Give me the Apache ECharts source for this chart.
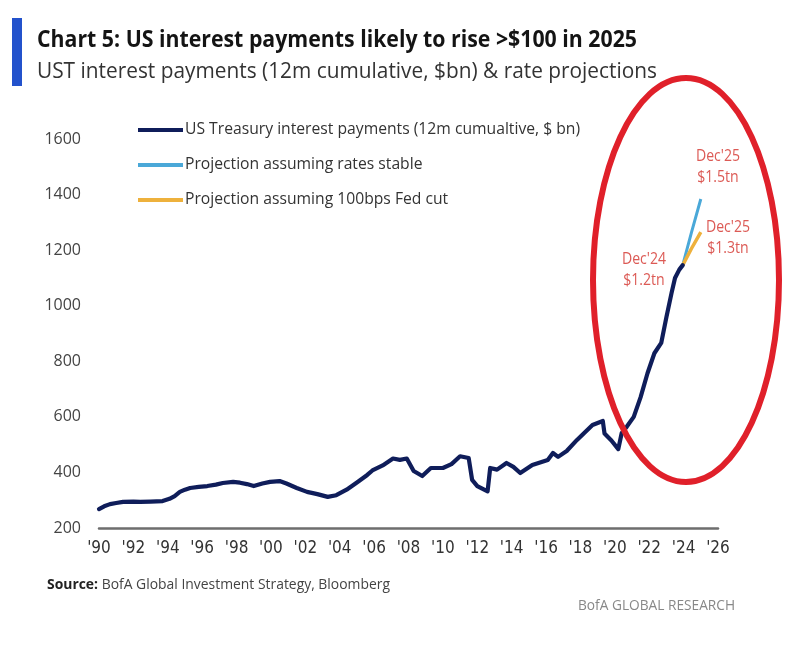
<!DOCTYPE html>
<html>
<head>
<meta charset="utf-8">
<script src="https://cdn.jsdelivr.net/npm/echarts@6/dist/echarts.min.js"></script>
<style>
html,body{margin:0;padding:0;background:#fff;}
#c{width:800px;height:645px;}
</style>
</head>
<body>
<div id="c"></div>
<script>
// ---- data ----
const histYears = [1990.0,1990.3,1990.64,1991.0,1991.4,1992.0,1992.4,1993.0,1993.7,1994.1,1994.4,1994.7,1995.0,1995.3,1995.8,1996.3,1996.8,1997.2,1997.8,1998.2,1998.6,1999.0,1999.5,1999.95,2000.5,2000.9,2001.5,2002.1,2002.7,2003.3,2003.8,2004.4,2005.0,2005.6,2005.9,2006.5,2007.1,2007.5,2007.9,2008.3,2008.8,2009.3,2010.0,2010.5,2011.0,2011.5,2011.7,2012.0,2012.6,2012.75,2013.15,2013.7,2014.1,2014.5,2015.2,2016.1,2016.4,2016.7,2017.2,2017.8,2018.4,2018.7,2019.0,2019.3,2019.4,2019.8,2020.2,2020.4,2020.7,2021.1,2021.5,2021.9,2022.3,2022.7,2023.0,2023.3,2023.5,2023.75,2023.95];
const histValues = [268,278,286,290,294,295,294,295,297,305,315,330,338,344,348,351,356,362,366,363,358,351,360,366,369,360,344,330,322,312,318,338,364,391,407,425,450,445,450,405,387,416,416,430,458,452,373,351,332,416,410,434,420,398,427,445,470,456,477,517,553,571,578,585,540,515,484,542,565,600,671,757,829,866,959,1046,1100,1130,1146];
const projYears = [2023.95, 2024.45, 2025.0];
const stableValues = [1146, 1262, 1384];
const cutValues = [1146, 1205, 1265];
const yTicks = [200,400,600,800,1000,1200,1400,1600];
const seriesNames = ['US Treasury interest payments (12m cumualtive, $ bn)','Projection assuming rates stable','Projection assuming 100bps Fed cut'];
const titleText = 'Chart 5: US interest payments likely to rise >$100 in 2025';
const subtitleText = 'UST interest payments (12m cumulative, $bn) & rate projections';
const annotations = [
  {lines:["Dec'25","$1.5tn"], x:718, y:167},
  {lines:["Dec'25","$1.3tn"], x:728, y:238},
  {lines:["Dec'24","$1.2tn"], x:644, y:270}
];

const zip = (xs, ys) => xs.map((x,i)=>[x, ys[i]]);
const FONT = '"Open Sans", "Liberation Sans", sans-serif';
const NARROW = '"DejaVu Sans Condensed", "Open Sans", sans-serif';

const mctx = document.createElement('canvas').getContext('2d');
function fitScale(text, font, width){ mctx.font = font; return width / mctx.measureText(text).width; }
function fitText(text, font, x, y, width, fill, extra){
  return Object.assign({type:'text', x:x, y:y, scaleX:fitScale(text, font, width),
    style:{text:text, font:font, fill:fill, verticalAlign:'top'}}, extra||{});
}

const chart = echarts.init(document.getElementById('c'), null, {renderer:'canvas'});
const titleFont = 'bold 22.5px "Open Sans"';
const subFont = '21px "Open Sans"';
const srcBold = 'bold 15px "Open Sans"';
const srcNorm = '15px "Open Sans"';
const srcRest = ' BofA Global Investment Strategy, Bloomberg';
mctx.font = srcBold; const wb = mctx.measureText('Source:').width;
mctx.font = srcNorm; const wn = mctx.measureText(srcRest).width;
const srcScale = 343 / (wb + wn);

chart.setOption({
  backgroundColor:'#fff',
  animation:false,
  grid:{left:99, right:82, top:139, bottom:117, containLabel:false},
  legend:{
    orient:'vertical', left:133, top:117,
    itemWidth:45, itemHeight:4, itemGap:19,
    icon:'rect',
    textStyle:{fontFamily:FONT, fontSize:15.7, color:'#333', padding:[0,0,0,-3]},
    data:seriesNames
  },
  xAxis:{
    type:'value', min:1990, max:2026, interval:2,
    axisLine:{show:true, lineStyle:{color:'#6e6e6e', width:2.5}},
    axisTick:{show:false},
    splitLine:{show:false},
    axisLabel:{margin:12, fontFamily:NARROW, fontSize:17, color:'#333',
      formatter:v=>"'"+String(v).slice(2)}
  },
  yAxis:{
    type:'value', min:yTicks[0], max:yTicks[yTicks.length-1], interval:200,
    axisLine:{show:false}, axisTick:{show:false}, splitLine:{show:false},
    axisLabel:{margin:18, fontFamily:FONT, fontSize:16, color:'#444', formatter:v=>String(v)}
  },
  series:[
    {name:seriesNames[0], type:'line', data:zip(histYears,histValues), showSymbol:false, symbol:'none',
      lineStyle:{color:'#0f1d5a', width:4.2, join:'round', cap:'round'}, itemStyle:{color:'#0f1d5a'}, z:5},
    {name:seriesNames[1], type:'line', data:zip(projYears,stableValues), showSymbol:false, symbol:'none',
      lineStyle:{color:'#4aa8d8', width:3}, itemStyle:{color:'#4aa8d8'}, z:3},
    {name:seriesNames[2], type:'line', data:zip(projYears,cutValues), showSymbol:false, symbol:'none',
      lineStyle:{color:'#eeb13c', width:3.5}, itemStyle:{color:'#eeb13c'}, z:4}
  ],
  graphic:[
    {type:'rect', shape:{x:12, y:18, width:10, height:68}, style:{fill:'#2352cc'}},
    fitText(titleText, titleFont, 37, 29.3, 600, '#141414'),
    fitText(subtitleText, subFont, 37, 61.5, 620, '#333'),
    {type:'ellipse', shape:{cx:686, cy:280, rx:93, ry:202}, style:{fill:'none', stroke:'#e0202a', lineWidth:6}, z:10},
    ...annotations.map(a=>({type:'text', x:a.x, y:a.y, scaleX:0.88, style:{text:a.lines.join('\n'), font:'16px "Open Sans"', fill:'#dc5a55',
      align:'center', verticalAlign:'middle', lineHeight:21}, z:11})),
    {type:'text', x:47, y:577, scaleX:srcScale, style:{rich:{b:{font:srcBold, fill:'#222'}, n:{font:srcNorm, fill:'#444'}},
      text:'{b|Source:}{n|'+srcRest+'}', verticalAlign:'top'}},
    fitText('BofA GLOBAL RESEARCH', srcNorm, 578, 598, 157, '#888')
  ]
});
</script>
</body>
</html>
